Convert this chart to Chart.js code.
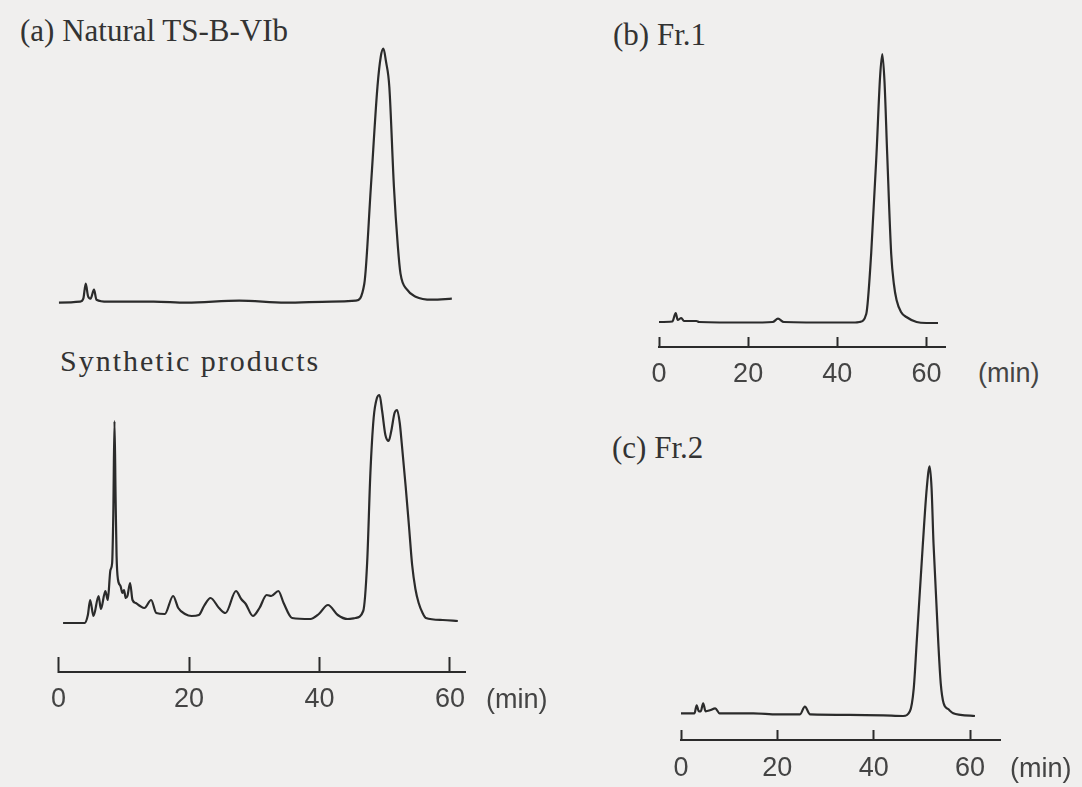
<!DOCTYPE html>
<html>
<head>
<meta charset="utf-8">
<title>HPLC chromatograms</title>
<script src="https://cdn.jsdelivr.net/npm/chart.js@4.4.1/dist/chart.umd.min.js"></script>
<style>
  html, body { margin: 0; padding: 0; background: #f0efee; }
  #page { position: relative; width: 1082px; height: 787px; overflow: hidden; background: #f0efee; }
  .box { position: absolute; }
  .title { position: absolute; font-family: "Liberation Serif", "Times New Roman", serif; font-size: 31px; line-height: 31px; color: #333; white-space: nowrap; }
  .unit { position: absolute; font-family: "Liberation Sans", Arial, sans-serif; font-size: 27px; line-height: 27px; color: #444; white-space: nowrap; }
</style>
</head>
<body>
<div id="page">
  <div class="title" style="left:20px; top:15px;">(a) Natural TS-B-VIb</div>
  <div class="title" style="left:60px; top:345px; font-size:30px; letter-spacing:2px;">Synthetic products</div>
  <div class="title" style="left:613px; top:19px;">(b) Fr.1</div>
  <div class="title" style="left:612px; top:432px;">(c) Fr.2</div>

  <div class="box" style="left:25px; top:40px;"><canvas id="natChart" width="470" height="270"></canvas></div>
  <div class="box" style="left:25px; top:370px;"><canvas id="synChart" width="470" height="347"></canvas></div>
  <div class="box" style="left:629px; top:40px;"><canvas id="fr1Chart" width="346" height="352"></canvas></div>
  <div class="box" style="left:651px; top:440px;"><canvas id="fr2Chart" width="379" height="345"></canvas></div>

  <div class="unit" style="left:486px; top:686px;">(min)</div>
  <div class="unit" style="left:978px; top:360px;">(min)</div>
  <div class="unit" style="left:1010px; top:755px;">(min)</div>
</div>

<script>
// retention time (min) and detector response (relative units)
var tickValues = [0, 20, 40, 60];

var natTime   = [0.6, 3.8, 4.3, 4.67, 5.0, 5.4, 5.93, 6.3, 8, 15, 20, 28, 35, 42, 45.7, 47, 48, 49, 49.5, 49.9, 50.3, 50.8, 51.5, 52.1, 52.5, 53.5, 54.8, 57.3, 60.3];
var natSignal = [-1, 0, 3, 18, 6, 3, 12, 2, 0, 0, -1, 1, -1, 0, 1, 18, 115, 215, 245, 253, 240, 215, 115, 55, 28, 12, 5, 2, 3];

var synTime   = [0.7, 4.0, 4.5, 4.85, 5.36, 6.14, 6.5, 7.18, 7.55, 7.96, 8.22, 8.4, 8.58, 8.75, 8.9, 9.1, 9.5, 9.8, 10.04, 10.3, 10.56, 10.97, 11.34, 11.85, 12.5, 13.16, 14.2, 14.98, 16.28, 17.57, 18.35, 19.39, 20.4, 21.5, 22.3, 23.3, 24.6, 25.6, 27.2, 28.0, 28.7, 29.8, 30.8, 31.9, 32.6, 33.7, 34.5, 35.8, 38.6, 39.9, 41.3, 42.8, 44.3, 45.5, 46.7, 47.3, 47.8, 48.3, 48.8, 49.2, 49.6, 50.1, 50.6, 51.0, 51.5, 51.9, 52.3, 52.6, 53.2, 53.7, 54.2, 54.7, 55.2, 55.8, 56.3, 58.9, 61.2];
var synSignal = [0, 0, 8, 23, 7, 27, 14, 32, 23, 53, 60, 110, 202, 125, 67, 44, 37, 30, 33, 25, 27, 40, 23, 20, 17, 15, 23, 10, 9, 27, 15, 9, 7, 8, 17, 25, 15, 10, 32, 24, 19, 7, 15, 28, 27, 32, 20, 5, 4, 9, 18, 8, 4, 5, 12, 60, 150, 205, 225, 228, 212, 188, 182, 192, 210, 213, 200, 180, 137, 98, 58, 34, 20, 10, 5, 3, 2];

var fr1Time   = [0, 3.0, 3.75, 4.2, 5.0, 5.6, 8.4, 9, 20, 25.5, 26.7, 28, 40, 44, 45, 46.5, 47.6, 48.8, 49.6, 50.1, 50.6, 51.2, 52.1, 52.7, 53.3, 54.3, 55.5, 57.8, 60, 62.6];
var fr1Signal = [0, 0.5, 9, 2, 4, 1, 1, 0, -0.5, 0, 3.3, 0, -0.5, -0.5, 0, 8, 68, 168, 245, 268, 240, 168, 68, 38, 22, 10, 5, 0, -1, -1];

var fr2Time   = [0, 2.8, 3.25, 3.7, 4.1, 4.6, 5.1, 6.0, 7.1, 8, 15, 20, 24.7, 25.7, 26.8, 35, 42, 46.1, 47.5, 48.3, 48.9, 50.2, 51.0, 51.6, 52.0, 52.4, 53.4, 53.9, 54.5, 55.5, 56.5, 58, 61];
var fr2Signal = [0, 0, 8, 2, 2, 10, 2, 3, 5, 0, 0, -1, -1, 6.7, -1, -1.5, -2, -2.7, 2, 25, 70, 170, 225, 247, 225, 170, 70, 30, 10, 4, 0, -1.5, -2.7];

var ink = '#2b2b2b';

function points(xs, ys) {
  var out = [];
  for (var i in xs) {
    out.push({ x: xs[i], y: ys[i] });
  }
  return out;
}

function makeChart(id, xs, ys, xMax, yMin, yMax, showAxis, tickLen, tickPad) {
  var ctx = document.getElementById(id);
  return new Chart(ctx, {
    type: 'line',
    data: {
      datasets: [{
        data: points(xs, ys),
        borderColor: ink,
        borderWidth: 2.2,
        pointRadius: 0,
        fill: false,
        cubicInterpolationMode: 'monotone',
        clip: false
      }]
    },
    options: {
      responsive: false,
      animation: false,
      devicePixelRatio: 1,
      layout: { padding: { left: 30, right: 30, top: 0, bottom: 0 } },
      plugins: { legend: { display: false }, tooltip: { enabled: false } },
      scales: {
        x: {
          type: 'linear',
          min: 0,
          max: xMax,
          display: showAxis,
          afterBuildTicks: function(scale) {
            scale.ticks = tickValues.map(function(v) { return { value: v }; });
          },
          afterFit: function(scale) { if (showAxis) scale.height = 45; },
          border: { display: true, color: ink, width: 2 },
          grid: { display: true, drawOnChartArea: false, drawTicks: true, tickLength: tickLen, tickWidth: 2, tickColor: ink },
          ticks: {
            padding: tickPad,
            maxRotation: 0,
            autoSkip: false,
            color: '#444',
            font: { family: '"Liberation Sans", Arial, sans-serif', size: 27 }
          }
        },
        y: { display: false, min: yMin, max: yMax }
      }
    }
  });
}

makeChart('natChart', natTime, natSignal, 62.3, -8.3, 261.7, false, -15, 27);
makeChart('synChart', synTime, synSignal, 62.3, -49, 253, true, -15, 26);
makeChart('fr1Chart', fr1Time, fr1Signal, 64.17, -25, 282, true, -10, 21);
makeChart('fr2Chart', fr2Time, fr2Signal, 66.2, -26.7, 273.3, true, -10, 22);
</script>
</body>
</html>
